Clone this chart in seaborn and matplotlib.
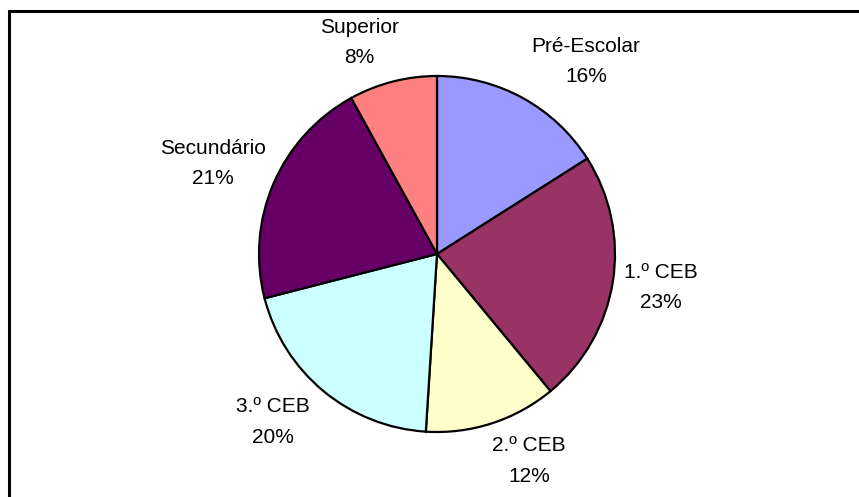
import matplotlib
matplotlib.use("Agg")
import matplotlib.pyplot as plt
import seaborn as sns
from matplotlib.lines import Line2D

categories = ['Pré-Escolar', '1.º CEB', '2.º CEB', '3.º CEB', 'Secundário', 'Superior']
percentages = [16, 23, 12, 20, 21, 8]
colors = ['#9999FF', '#993366', '#FFFFCC', '#CCFFFF', '#660066', '#FF8080']

# label anchor points (in pie radius units), placed like Excel's best fit
label_pos = [(0.837, 1.081), (1.258, -0.188), (0.517, -1.163),
             (-0.921, -0.944), (-1.258, 0.508), (-0.438, 1.188)]

sns.set_theme(style="white")
plt.rcParams['font.family'] = ['Liberation Sans', 'DejaVu Sans']

fig = plt.figure(figsize=(8.59, 4.97), dpi=100)
fig.patch.set_facecolor('white')

# pie centre ~ (437, 253) px, radius ~178 px
ax = fig.add_axes([(437 - 178) / 859, (497 - 432) / 497, 356 / 859, 356 / 497])
wedges, _ = ax.pie(percentages, colors=sns.color_palette(colors), startangle=90,
                   counterclock=False, radius=1,
                   wedgeprops=dict(edgecolor='black', linewidth=1.6))
ax.set_xlim(-1, 1)
ax.set_ylim(-1, 1)
ax.set_aspect('auto')
ax.axis('off')

for name, pct, (x, y) in zip(categories, percentages, label_pos):
    ax.text(x, y, f"{name}\n{pct}%", ha='center', va='center', fontsize=15,
            linespacing=1.75, color='black', clip_on=False)

# outer frame (only top and left edges visible)
fig.add_artist(Line2D([9 / 859, 1.0], [1 - 11 / 497, 1 - 11 / 497],
                      transform=fig.transFigure, color='black', linewidth=2.2))
fig.add_artist(Line2D([9 / 859, 9 / 859], [0.0, 1 - 11 / 497],
                      transform=fig.transFigure, color='black', linewidth=2.2))

fig.savefig("out.png", dpi=100)
